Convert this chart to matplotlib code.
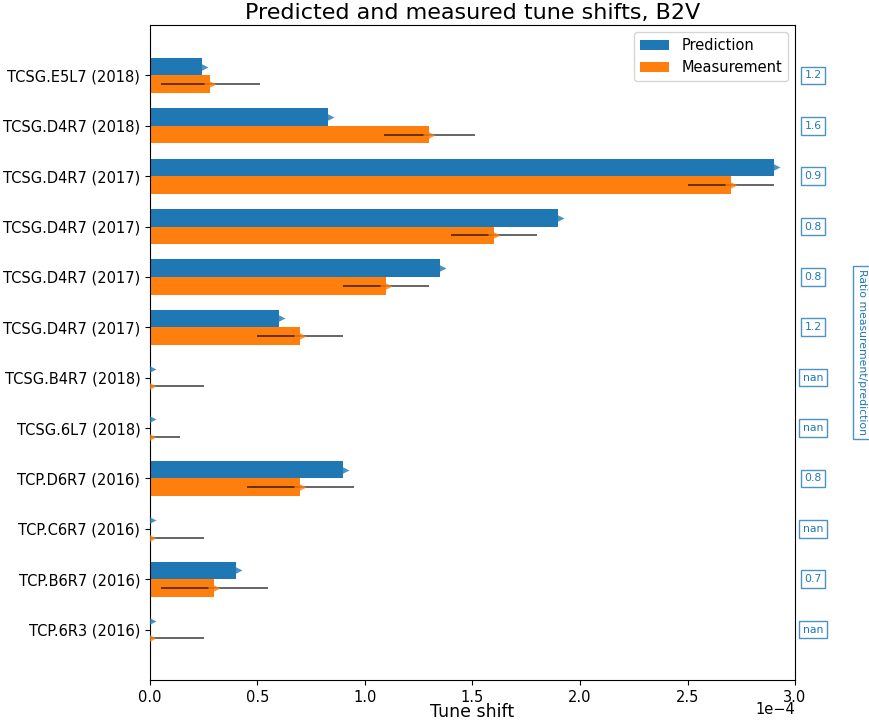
import numpy as np
import matplotlib
matplotlib.use("Agg")
import matplotlib.pyplot as plt

labels = ["TCSG.E5L7 (2018)", "TCSG.D4R7 (2018)", "TCSG.D4R7 (2017)", "TCSG.D4R7 (2017)",
          "TCSG.D4R7 (2017)", "TCSG.D4R7 (2017)", "TCSG.B4R7 (2018)", "TCSG.6L7 (2018)",
          "TCP.D6R7 (2016)", "TCP.C6R7 (2016)", "TCP.B6R7 (2016)", "TCP.6R3 (2016)"]
prediction = [0.24, 0.83, 2.90, 1.90, 1.35, 0.60, 0.0, 0.0, 0.90, 0.0, 0.40, 0.0]   # x1e-4
measurement = [0.28, 1.30, 2.70, 1.60, 1.10, 0.70, 0.0, 0.0, 0.70, 0.0, 0.30, 0.0]  # x1e-4
meas_error = [0.23, 0.21, 0.20, 0.20, 0.20, 0.20, 0.25, 0.14, 0.25, 0.25, 0.25, 0.25]  # x1e-4
ratio_labels = ["1.2", "1.6", "0.9", "0.8", "0.8", "1.2", "nan", "nan", "0.8", "nan", "0.7", "nan"]
scale = 1e-4

blue = "#1f77b4"
orange = "#ff7f0e"

fig = plt.figure(figsize=(8.7, 7.22), dpi=100)
ax = fig.add_axes([0.1724, 0.0582, 0.7414, 0.9072])

n = len(labels)
y = np.arange(n)[::-1]
pred = np.array(prediction) * scale
meas = np.array(measurement) * scale
err = np.array(meas_error) * scale
h = 0.35

ax.barh(y + h / 2, pred, height=h, color=blue, label="Prediction", zorder=2)
ax.barh(y - h / 2, meas, height=h, color=orange, label="Measurement", zorder=2)
ax.errorbar(meas, y - h / 2, xerr=err, fmt="none", ecolor="k", alpha=0.7,
            elinewidth=1.2, capsize=0, zorder=3)
ax.plot(pred, y + h / 2, ">", color=blue, alpha=0.8, markersize=8.5, mec="none", zorder=4)
ax.plot(meas, y - h / 2, ">", color=orange, alpha=0.8, markersize=8.5, mec="none", zorder=4)

ax.set_yticks(y)
ax.set_yticklabels(labels, fontsize=10.5)
ax.set_ylim(-1, n)
ax.set_xlim(0, 3e-4)
ax.ticklabel_format(axis="x", style="sci", scilimits=(0, 0))
ax.tick_params(axis="x", labelsize=10.5)
ax.xaxis.get_offset_text().set_fontsize(10.5)
ax.xaxis.OFFSETTEXTPAD = -2
ax.set_xlabel("Tune shift", fontsize=12.5, labelpad=-1)
ax.set_title("Predicted and measured tune shifts, B2V", fontsize=16, pad=4)
ax.legend(loc="upper right", fontsize=10.5)

for yi, r in zip(y, ratio_labels):
    ax.text(1.028, yi, r, transform=ax.get_yaxis_transform(), ha="center", va="center",
            fontsize=7.8, color=blue,
            bbox=dict(boxstyle="square,pad=0.35", fc="white", ec=blue, alpha=0.8))

ax.text(1.104, 0.5, "Ratio measurement/prediction", transform=ax.transAxes, rotation=270,
        ha="center", va="center", fontsize=7.8, color=blue,
        bbox=dict(boxstyle="square,pad=0.35", fc="white", ec=blue, alpha=0.8))

fig.savefig("out.png", dpi=100)
